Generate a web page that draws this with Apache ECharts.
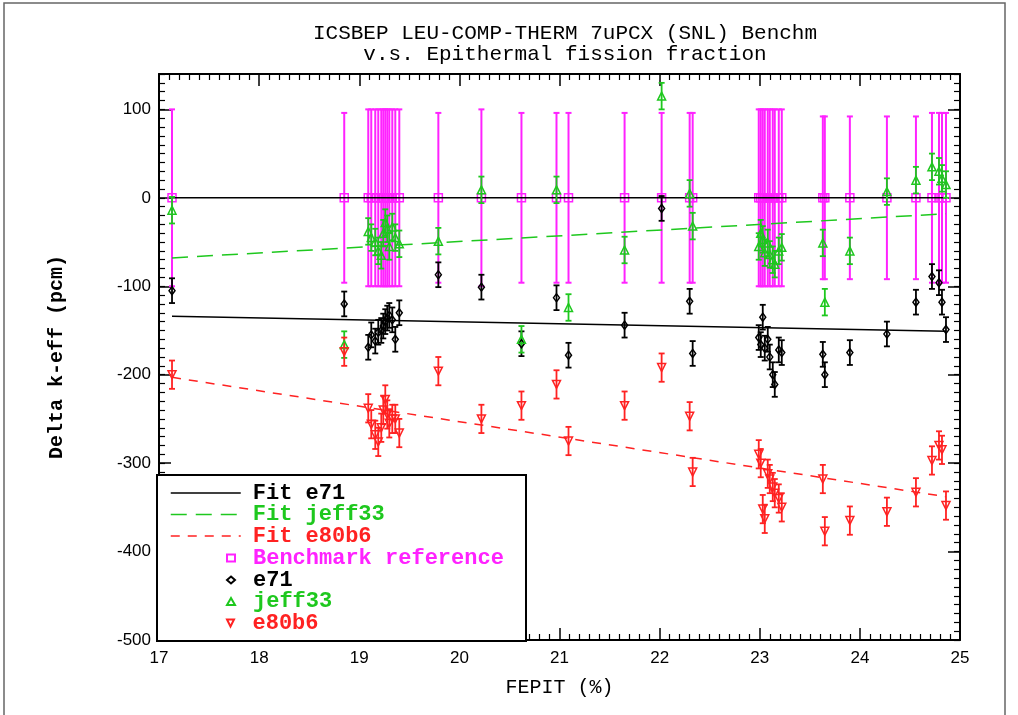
<!DOCTYPE html>
<html>
<head>
<meta charset="utf-8">
<script src="https://cdn.jsdelivr.net/npm/echarts@6/dist/echarts.min.js"></script>
<style>
html,body{margin:0;padding:0;background:#fff;}
#chart{width:1018px;height:715px;}
</style>
</head>
<body>
<div id="chart"></div>
<script>
// ---- data ----
const TITLE = 'ICSBEP LEU-COMP-THERM 7uPCX (SNL) Benchm\nv.s. Epithermal fission fraction';
const X_NAME = 'FEPIT (%)';
const Y_NAME = 'Delta k-eff (pcm)';

// FEPIT (%) of each benchmark case
const CASE_X = [17.13, 18.85,
  19.09, 19.12, 19.16, 19.19, 19.22, 19.24, 19.26, 19.28, 19.30, 19.33, 19.36, 19.40,
  19.79, 20.22, 20.62, 20.97, 21.09, 21.65, 22.02, 22.30, 22.33,
  22.99, 23.01, 23.03, 23.05, 23.08, 23.10, 23.13, 23.15, 23.19, 23.22,
  23.63, 23.65, 23.90, 24.27, 24.56, 24.72, 24.79, 24.82, 24.86];
// benchmark reference (always 0) and its uncertainty (pcm)
const BENCH_VAL = [0,0, 0,0,0,0,0,0,0,0,0,0,0,0, 0,0,0,0,0,0,0,0,0, 0,0,0,0,0,0,0,0,0,0, 0,0,0,0,0,0,0,0,0];
const BENCH_ERR = [100, 96,
  100,100,100,100,100,100,100,100,100,100,100,100,
  96, 100, 96, 96, 96, 96, 96, 96, 96,
  100,100,100,100,100,100,100,100,100,100,
  92, 92, 92, 92, 92, 96, 96, 96, 96];
const E71 = [-105, -120,
  -169, -155, -162, -152, -150, -145, -140, -136, -133, -138, -160, -130,
  -87, -101, -165, -113, -178, -144, -12, -117, -176,
  -158, -166, -135, -170, -160, -180, -200, -211, -172, -175,
  -177, -200, -175, -154, -118, -89, -96, -118, -149];
const JEFF33 = [-14, -166,
  -38, -45, -50, -60, -65, -40, -28, -35, -55, -33, -45, -52,
  -49, 9, -160, 9, -124, -59, 115, 5, -32,
  -55, -40, -47, -62, -51, -64, -70, -75, -60, -56,
  -51, -118, -60, 7, 20, 35, 30, 22, 15];
const E80B6 = [-200, -174,
  -238, -256, -268, -276, -260, -240, -228, -245, -255, -250, -250, -266,
  -196, -250, -235, -211, -275, -235, -192, -247, -310,
  -290, -300, -352, -363, -312, -318, -327, -334, -340, -350,
  -318, -377, -365, -355, -333, -297, -280, -285, -348];
const ERR_E71 = 14, ERR_JEFF33 = 15, ERR_E80B6 = 16;

// linear fits (end points)
const FIT_X = [17.13, 24.86];
const FIT_E71 = [-134, -151];
const FIT_JEFF33 = [-68, -18];
const FIT_E80B6 = [-203, -338];
const ZERO_LINE = [0, 0];

// axis ranges
const X_MIN = 17, X_MAX = 25, X_STEP = 1;
const Y_MIN = -500, Y_MAX = 140, Y_STEP = 100, Y_MINOR = 10;

// ---- styling ----
const C_BENCH = '#ff22ff', C_E71 = '#000000', C_J33 = '#1ec81e', C_E80 = '#ff2222';
const TRI_DOWN = 'path://M0,0L10,0L5,10Z';
const MONO = '"Liberation Mono", "DejaVu Sans Mono", monospace';
const SANS = '"Liberation Sans", Arial, sans-serif';
const HIDDEN_SYMBOL = {color:'rgba(0,0,0,0)', borderWidth:0, opacity:0};
const DASH_J33 = [16,9], DASH_E80 = [9,8];

function pts(ys){ return CASE_X.map((x,i)=>[x, ys[i]]); }
function errData(ys, errs){
  return CASE_X.map((x,i)=>{
    const e = Array.isArray(errs) ? errs[i] : errs;
    return [x, ys[i]-e, ys[i]+e];
  });
}
function errRender(color, cap, lw){
  return function(params, api){
    const x = api.value(0);
    const p1 = api.coord([x, api.value(1)]);
    const p2 = api.coord([x, api.value(2)]);
    const st = {stroke: color, lineWidth: lw};
    return {type:'group', children:[
      {type:'line', shape:{x1:p1[0], y1:p1[1], x2:p2[0], y2:p2[1]}, style:st},
      {type:'line', shape:{x1:p1[0]-cap, y1:p1[1], x2:p1[0]+cap, y2:p1[1]}, style:st},
      {type:'line', shape:{x1:p2[0]-cap, y1:p2[1], x2:p2[0]+cap, y2:p2[1]}, style:st}
    ]};
  };
}
function errSeries(name, ys, errs, color, cap, lw, z){
  return {name: name, type:'custom', renderItem: errRender(color, cap, lw),
    data: errData(ys, errs), encode:{x:0, y:[1,2]}, z: z, silent:true, clip:true};
}
function scatter(name, ys, symbol, size, color, z){
  return {name: name, type:'scatter', data: pts(ys), symbol: symbol, symbolSize: size,
    itemStyle:{color:'rgba(255,255,255,0)', borderColor: color, borderWidth: 1.5, opacity:1},
    z: z, silent:true};
}
function fitLine(name, ys, color, type, z){
  return {name: name, type:'line', data: FIT_X.map((x,i)=>[x, ys[i]]), symbol:'none',
    itemStyle:{color: color}, lineStyle:{color: color, width:1.5, type: type}, z: z, silent:true};
}
// one legend component per row, so the row pitch matches the reference
function legendRow(item, centerY, isLine){
  return {
    orient:'vertical', left: isLine ? 170 : 226, top: centerY - 11,
    itemWidth: isLine ? 70 : 8, itemHeight: isLine ? 10 : 7,
    selectedMode:false, z:20, padding:0,
    textStyle:{fontFamily: MONO, fontSize: 22, fontWeight:'bold', lineHeight:22,
      padding:[0,0,0, isLine ? 7 : 13]},
    data:[item]
  };
}

const axisCommon = {
  axisLine:{onZero:false, lineStyle:{color:'#000', width:2}},
  splitLine:{show:false}
};

const option = {
  animation:false,
  backgroundColor:'#fff',
  title:{
    text: TITLE, left: 560, top: 18, textAlign:'center',
    textStyle:{fontFamily: MONO, fontSize: 21, fontWeight:'normal', color:'#000', lineHeight: 21}
  },
  grid:{left:159, right:58, top:74, bottom:75},
  xAxis:[
    Object.assign({}, axisCommon, {
      type:'value', position:'bottom', min:X_MIN, max:X_MAX, interval:X_STEP,
      name: X_NAME, nameLocation:'middle', nameGap: 38,
      nameTextStyle:{fontFamily: MONO, fontSize: 20, color:'#000'},
      axisTick:{inside:true, length:12, lineStyle:{color:'#000', width:1.5}},
      minorTick:{show:true, splitNumber:10, length:6, lineStyle:{color:'#000', width:1.2}},
      axisLabel:{fontFamily: SANS, fontSize: 17, color:'#000', margin: 10}
    }),
    Object.assign({}, axisCommon, {
      type:'value', position:'top', min:X_MIN, max:X_MAX, interval:X_STEP,
      axisTick:{inside:true, length:12, lineStyle:{color:'#000', width:1.5}},
      minorTick:{show:true, splitNumber:10, length:6, lineStyle:{color:'#000', width:1.2}},
      axisLabel:{show:false}
    })
  ],
  yAxis:[
    Object.assign({}, axisCommon, {
      type:'value', position:'left', offset:0, min:Y_MIN, max:Y_MAX, interval:Y_STEP,
      name: Y_NAME, nameLocation:'middle', nameGap: 92,
      nameTextStyle:{fontFamily: MONO, fontSize: 20, fontWeight:'bold', color:'#000'},
      axisTick:{inside:true, length:12, lineStyle:{color:'#000', width:1.5}},
      axisLabel:{fontFamily: SANS, fontSize: 17, color:'#000', margin: 8, showMaxLabel:false}
    }),
    Object.assign({}, axisCommon, {
      type:'value', position:'left', offset:0, min:Y_MIN, max:Y_MAX, interval:Y_MINOR,
      axisLine:{show:false, onZero:false},
      axisTick:{inside:true, length:6, lineStyle:{color:'#000', width:1.2}},
      axisLabel:{show:false}
    }),
    Object.assign({}, axisCommon, {
      type:'value', position:'right', offset:0, min:Y_MIN, max:Y_MAX, interval:Y_STEP,
      axisTick:{inside:true, length:12, lineStyle:{color:'#000', width:1.5}},
      axisLabel:{show:false}
    }),
    Object.assign({}, axisCommon, {
      type:'value', position:'right', offset:0, min:Y_MIN, max:Y_MAX, interval:Y_MINOR,
      axisLine:{show:false, onZero:false},
      axisTick:{inside:true, length:6, lineStyle:{color:'#000', width:1.2}},
      axisLabel:{show:false}
    })
  ],
  legend:[
    legendRow({name:'Fit e71', textStyle:{color:C_E71}, itemStyle:HIDDEN_SYMBOL,
      lineStyle:{color:C_E71, width:1.5, type:'solid'}}, 493, true),
    legendRow({name:'Fit jeff33', textStyle:{color:C_J33}, itemStyle:HIDDEN_SYMBOL,
      lineStyle:{color:C_J33, width:1.5, type:DASH_J33}}, 514.5, true),
    legendRow({name:'Fit e80b6', textStyle:{color:C_E80}, itemStyle:HIDDEN_SYMBOL,
      lineStyle:{color:C_E80, width:1.5, type:DASH_E80}}, 536, true),
    legendRow({name:'Benchmark reference', icon:'rect', textStyle:{color:C_BENCH}}, 558, false),
    legendRow({name:'e71', icon:'diamond', textStyle:{color:C_E71}}, 580, false),
    legendRow({name:'jeff33', icon:'triangle', textStyle:{color:C_J33}}, 601.5, false),
    legendRow({name:'e80b6', icon:TRI_DOWN, textStyle:{color:C_E80}}, 623, false)
  ],
  graphic:[
    {type:'rect', z:15, shape:{x:4, y:3, width:1001, height:720},
     style:{fill:'none', stroke:'#666', lineWidth:1.5}},
    {type:'rect', z:15, shape:{x:157, y:475, width:369, height:166},
     style:{fill:'#fff', stroke:'#000', lineWidth:2}}
  ],
  series:[
    errSeries('bench err', BENCH_VAL, BENCH_ERR, C_BENCH, 3, 2, 2),
    scatter('Benchmark reference', BENCH_VAL, 'rect', 8, C_BENCH, 3),
    {name:'zero', type:'line', data: FIT_X.map((x,i)=>[x, ZERO_LINE[i]]), symbol:'none',
      itemStyle:{color:'#000'}, lineStyle:{color:'#000', width:1.5}, z:4, silent:true},
    errSeries('e71 err', E71, ERR_E71, C_E71, 3, 1.8, 5),
    scatter('e71', E71, 'diamond', [6,8], C_E71, 6),
    errSeries('jeff33 err', JEFF33, ERR_JEFF33, C_J33, 3, 1.8, 5),
    scatter('jeff33', JEFF33, 'triangle', 8, C_J33, 6),
    errSeries('e80b6 err', E80B6, ERR_E80B6, C_E80, 3, 1.8, 5),
    scatter('e80b6', E80B6, TRI_DOWN, 8, C_E80, 6),
    fitLine('Fit e71', FIT_E71, C_E71, 'solid', 7),
    fitLine('Fit jeff33', FIT_JEFF33, C_J33, DASH_J33, 7),
    fitLine('Fit e80b6', FIT_E80B6, C_E80, DASH_E80, 7)
  ]
};

const chart = echarts.init(document.getElementById('chart'), null, {renderer:'canvas'});
chart.setOption(option);
</script>
</body>
</html>
